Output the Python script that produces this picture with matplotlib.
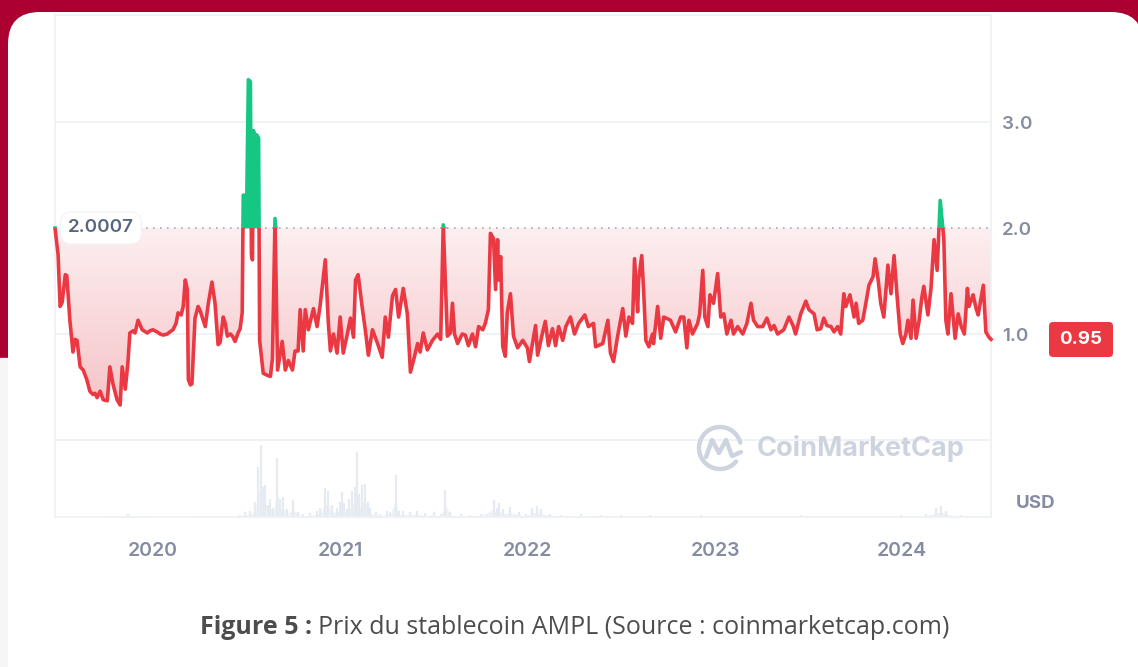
import numpy as np
import pandas as pd
import matplotlib
matplotlib.use("Agg")
import matplotlib.pyplot as plt
import matplotlib.dates as mdates
from matplotlib.patches import Rectangle, FancyBboxPatch
from matplotlib.colors import LinearSegmentedColormap

# AMPL price (USD); days counted from start_date
start_date = "2019-06-24"
days = [0, 6, 10, 14, 20, 23, 29, 35, 39, 43, 49, 55, 62, 68, 74, 78, 82, 88, 94, 102,
        107, 113, 121, 127, 131, 137, 142, 146, 152, 156, 162, 170, 180, 185, 191, 199, 205, 211, 219, 224,
        230, 236, 240, 246, 250, 254, 258, 260, 264, 267, 273, 279, 283, 287, 293, 299, 306, 312, 318, 322,
        328, 332, 336, 342, 346, 351, 357, 361, 365, 367, 374, 377, 381, 383, 385, 387, 391, 393, 397, 399,
        406, 414, 420, 424, 429, 434, 443, 449, 455, 463, 468, 474, 478, 484, 488, 494, 504, 511, 517, 527,
        533, 537, 543, 550, 556, 562, 570, 576, 582, 586, 591, 599, 605, 611, 619, 629, 638, 644, 650, 658,
        664, 670, 679, 687, 693, 699, 707, 712, 718, 726, 736, 746, 752, 757, 765, 771, 775, 779, 785, 794,
        800, 806, 814, 820, 826, 834, 839, 845, 849, 855, 859, 863, 865, 869, 873, 878, 882, 888, 894, 902,
        912, 921, 925, 931, 937, 941, 951, 956, 962, 970, 976, 982, 990, 996, 1005, 1013, 1021, 1033, 1040, 1050,
        1054, 1068, 1078, 1083, 1089, 1097, 1107, 1113, 1119, 1126, 1130, 1136, 1138, 1144, 1148, 1152, 1158, 1165, 1167, 1175,
        1181, 1187, 1200, 1210, 1220, 1226, 1232, 1236, 1243, 1253, 1257, 1263, 1267, 1273, 1277, 1284, 1292, 1298, 1304, 1310,
        1318, 1323, 1331, 1341, 1349, 1357, 1362, 1370, 1380, 1388, 1396, 1402, 1409, 1421, 1431, 1439, 1444, 1454, 1464, 1470,
        1480, 1486, 1493, 1499, 1505, 1513, 1519, 1526, 1532, 1538, 1542, 1550, 1558, 1562, 1567, 1575, 1581, 1587, 1595, 1599,
        1605, 1610, 1616, 1624, 1630, 1636, 1642, 1648, 1653, 1659, 1663, 1669, 1673, 1679, 1685, 1690, 1694, 1702, 1708, 1714,
        1720, 1726, 1733, 1737, 1741, 1747, 1755, 1761, 1767, 1773, 1779, 1782, 1790, 1796, 1800, 1810, 1815, 1821, 1825]
price = [2.00, 1.75, 1.26, 1.30, 1.56, 1.55, 1.13, 0.83, 0.95, 0.94, 0.69, 0.66, 0.57, 0.46, 0.43, 0.44, 0.40, 0.46, 0.38, 0.37,
         0.69, 0.53, 0.38, 0.33, 0.69, 0.48, 0.72, 1.01, 1.03, 1.01, 1.13, 1.04, 1.01, 1.03, 1.04, 1.02, 1.00, 0.99, 1.00, 1.02,
         1.04, 1.10, 1.20, 1.18, 1.26, 1.51, 1.42, 0.57, 0.52, 0.53, 1.15, 1.26, 1.22, 1.16, 1.07, 1.29, 1.49, 1.29, 0.90, 0.92,
         1.16, 1.10, 0.98, 1.00, 0.98, 0.93, 1.01, 1.05, 1.20, 2.31, 2.31, 3.40, 3.38, 1.75, 1.70, 2.92, 2.80, 2.88, 2.85, 0.94,
         0.63, 0.61, 0.60, 0.77, 2.09, 0.66, 0.93, 0.66, 0.75, 0.66, 0.84, 0.84, 1.23, 0.84, 1.23, 1.04, 1.24, 1.07, 1.27, 1.70,
         1.10, 0.84, 1.00, 0.82, 1.16, 0.82, 1.00, 1.15, 0.97, 1.51, 1.56, 1.25, 1.04, 0.80, 1.04, 0.91, 0.78, 1.16, 0.97, 1.36,
         1.42, 1.16, 1.43, 1.19, 0.64, 0.75, 0.91, 0.83, 1.01, 0.85, 0.94, 1.00, 0.95, 2.03, 0.98, 1.01, 1.29, 1.00, 0.91, 1.00,
         0.99, 0.89, 1.00, 0.88, 1.07, 1.04, 1.10, 1.23, 1.95, 1.90, 1.42, 1.89, 1.51, 1.73, 0.88, 0.79, 1.21, 1.38, 0.98, 0.87,
         0.94, 0.87, 0.74, 0.91, 1.08, 0.80, 1.02, 1.12, 0.89, 1.05, 0.89, 1.07, 0.94, 1.07, 1.16, 1.00, 1.10, 1.18, 1.07, 1.10,
         0.88, 0.91, 1.13, 0.82, 0.74, 0.98, 1.24, 0.98, 1.16, 1.10, 1.71, 1.21, 1.51, 1.74, 1.38, 0.94, 0.88, 1.00, 0.91, 1.26,
         0.96, 1.16, 1.13, 1.02, 1.16, 1.16, 0.87, 1.13, 1.00, 1.10, 1.19, 1.60, 1.16, 1.07, 1.37, 1.29, 1.57, 1.16, 1.19, 1.00,
         1.13, 1.00, 1.07, 1.00, 1.10, 1.29, 1.13, 1.07, 1.07, 1.15, 1.04, 1.08, 1.00, 1.04, 1.16, 1.08, 1.00, 1.19, 1.31, 1.23,
         1.19, 1.04, 1.05, 1.15, 1.08, 1.07, 1.02, 1.07, 1.00, 1.38, 1.26, 1.37, 1.16, 1.29, 1.10, 1.13, 1.29, 1.46, 1.54, 1.71,
         1.51, 1.29, 1.16, 1.65, 1.38, 1.74, 1.35, 1.00, 0.91, 1.00, 1.13, 0.96, 1.32, 0.96, 1.13, 1.34, 1.45, 1.18, 1.43, 1.89,
         1.60, 2.26, 1.90, 1.13, 1.00, 1.38, 0.96, 1.19, 1.07, 1.00, 1.43, 1.26, 1.37, 1.24, 1.18, 1.46, 1.02, 0.97, 0.95]
base_price = 2.0007
last_price = 0.95

# trading volume (relative units), same day counting
vol_days = [0, 88, 142, 205, 283, 361, 371, 381, 390, 396, 402, 406, 410, 416, 420, 426, 433, 439, 445, 453,
            465, 474, 484, 498, 511, 517, 527, 533, 541, 550, 556, 560, 564, 569, 574, 579, 584, 589, 593, 599,
            605, 611, 615, 625, 634, 647, 654, 664, 670, 679, 693, 706, 722, 738, 752, 761, 771, 791, 810, 830,
            855, 861, 865, 874, 888, 904, 918, 931, 939, 947, 966, 986, 1025, 1064, 1103, 1161, 1259, 1357, 1454, 1552,
            1649, 1698, 1718, 1728, 1737, 1767, 1825]
volume = [0.2, 0.3, 2.0, 0.3, 0.5, 1.5, 3.5, 4.0, 10, 33, 48, 20, 21, 8, 12, 6, 39, 12, 13, 5,
          11, 3, 2, 2.5, 4, 6, 19, 17, 8, 6, 10, 16.5, 9, 5, 12, 17, 20, 43, 15, 21,
          22, 10, 6, 3, 2, 4, 3, 28, 4, 4, 3, 4, 2.5, 3, 2, 18, 3, 2, 1.5, 2,
          11, 6, 9, 5, 6.5, 3, 2, 6, 7.5, 5, 2, 1.5, 2, 1, 1.5, 1, 1, 0.8, 1, 0.8,
          1, 2, 6, 7.5, 4, 1.5, 1]

year_ticks = ["2020", "2021", "2022", "2023", "2024"]
price_ticks = [1.0, 2.0, 3.0]

RED = "#ea3943"
GREEN = "#16c784"
GRID = "#eff2f5"
LABEL = "#858ca2"
NUMFONT = ["Inter", "DejaVu Sans"]
CAPFONT = ["Open Sans", "DejaVu Sans"]

W, H = 1138, 667
fig = plt.figure(figsize=(W / 100, H / 100), dpi=100)


def box(l, t, r, b):
    # pixel box (left, top, right, bottom) -> figure fraction rect
    return [l / W, 1 - b / H, (r - l) / W, (b - t) / H]


# page background + white card
bg = fig.add_axes([0, 0, 1, 1], zorder=-5)
bg.set_xlim(0, W)
bg.set_ylim(H, 0)
bg.axis("off")
bg.add_patch(Rectangle((0, 0), W, 358, color="#ab0030"))
bg.add_patch(Rectangle((0, 358), W, H - 358, color="#f6f6f6"))
bg.add_patch(FancyBboxPatch((8, 12), 1135, 690, boxstyle="round,pad=0,rounding_size=32",
                            fc="white", ec="none"))

t0 = pd.Timestamp(start_date)
x = mdates.date2num(t0 + pd.to_timedelta(days, unit="D"))
p = np.array(price)
xv = mdates.date2num(t0 + pd.to_timedelta(vol_days, unit="D"))
x0, x1 = x[0], x[-1]

# price panel
ax = fig.add_axes(box(55, 15, 991, 440))
ax.set_facecolor("none")

poly = ax.fill_between(x, np.minimum(p, base_price), base_price, facecolor="none", edgecolor="none")
grad = np.linspace(0, 1, 256).reshape(-1, 1)
cmap = LinearSegmentedColormap.from_list("pinkfade", ["#f5c4c8", "#fdeff0"])
im = ax.imshow(grad, extent=[x0, x1, 0.3, base_price], origin="lower", aspect="auto",
               cmap=cmap, zorder=1)
im.set_clip_path(poly.get_paths()[0], transform=ax.transData)

ax.fill_between(x, base_price, np.maximum(p, base_price), color=GREEN, lw=0, zorder=2)

for yv in [1.0, 3.0]:
    ax.axhline(yv, color=GRID, lw=1.3, zorder=0.5)
ax.axhline(base_price, color="#a3abbb", lw=1.2, ls=(0, (1, 3.2)), zorder=1.5)

red_line, = ax.plot(x, p, color=RED, lw=2.6, solid_joinstyle="round", zorder=3)
green_line, = ax.plot(x, p, color=GREEN, lw=2.6, solid_joinstyle="round", zorder=3)
red_line.set_clip_path(Rectangle((x0 - 50, -5), x1 - x0 + 100, base_price + 5, transform=ax.transData))
green_line.set_clip_path(Rectangle((x0 - 50, base_price), x1 - x0 + 100, 10, transform=ax.transData))

ax.text(0.0139, base_price, "2.0007", transform=ax.get_yaxis_transform(), ha="left", va="center",
        fontsize=13.5, family=NUMFONT, fontweight="semibold", color="#58667e", zorder=6,
        bbox=dict(boxstyle="round,pad=0.4,rounding_size=0.6", fc="white", ec="#f3f3f3", lw=0.8))

ax.set_xlim(x0, x1)
ax.set_ylim(0, 4.01)
ax.set_xticks([])
ax.yaxis.tick_right()
ax.set_yticks(price_ticks)
ax.set_yticklabels([f"{v:.1f}" for v in price_ticks], family=NUMFONT, fontweight="semibold")
ax.tick_params(axis="y", length=0, pad=8, labelsize=13.5, labelcolor=LABEL)
for s in ax.spines.values():
    s.set_color(GRID)
    s.set_linewidth(1.3)

# volume panel
axv = fig.add_axes(box(55, 440, 991, 517))
axv.set_facecolor("none")
axv.fill_between(xv, np.array(volume) * 0.45, 0, color="#eef1f6", lw=0)
axv.vlines(xv, 0, volume, color="#e6eaf1", lw=1.6)
axv.set_xlim(x0, x1)
axv.set_ylim(0, 51)
axv.set_yticks([])
axv.set_xticks(mdates.date2num(pd.to_datetime(year_ticks)))
axv.set_xticklabels(year_ticks, family=NUMFONT, fontweight="semibold")
axv.tick_params(axis="x", length=0, pad=18, labelsize=14, labelcolor=LABEL)
for s in axv.spines.values():
    s.set_color(GRID)
    s.set_linewidth(1.3)

# overlay: watermark, badge, USD, caption
top = fig.add_axes([0, 0, 1, 1], zorder=5)
top.set_xlim(0, W)
top.set_ylim(H, 0)
top.axis("off")
wm = "#cdd4df"
t = np.radians(np.linspace(15, 320, 80))
top.plot(720 + 21 * np.cos(t), 448 - 21 * np.sin(t), color=wm, lw=3.2, solid_capstyle="round")
top.plot([706, 712, 719, 726, 732, 741], [457, 440, 453, 440, 456, 452], color=wm, lw=3.2,
         solid_joinstyle="round", solid_capstyle="round")
top.text(757, 448, "CoinMarketCap", ha="left", va="center", fontsize=19.5, fontweight="bold",
         family=NUMFONT, color=wm)
top.text(1016, 503, "USD", ha="left", va="center", fontsize=13.5, fontweight="bold",
         family=NUMFONT, color=LABEL)
top.add_patch(FancyBboxPatch((1049, 322), 64, 35, boxstyle="round,pad=0,rounding_size=4",
                             fc=RED, ec="none"))
top.text(1081, 340, f"{last_price:.2f}", ha="center", va="center", fontsize=13.5, fontweight="bold",
         family=NUMFONT, color="white")

cap1 = top.text(200, 628, "Figure 5 :", ha="left", va="center", fontsize=18, fontweight="bold",
                family=CAPFONT, color="#4d4d4d")
fig.canvas.draw()
bb = cap1.get_window_extent(fig.canvas.get_renderer())
top.text(bb.x1 + 6, 628, "Prix du stablecoin AMPL (Source : coinmarketcap.com)", ha="left", va="center",
         fontsize=18, family=CAPFONT, color="#4d4d4d")

fig.savefig("out.png", dpi=100)
